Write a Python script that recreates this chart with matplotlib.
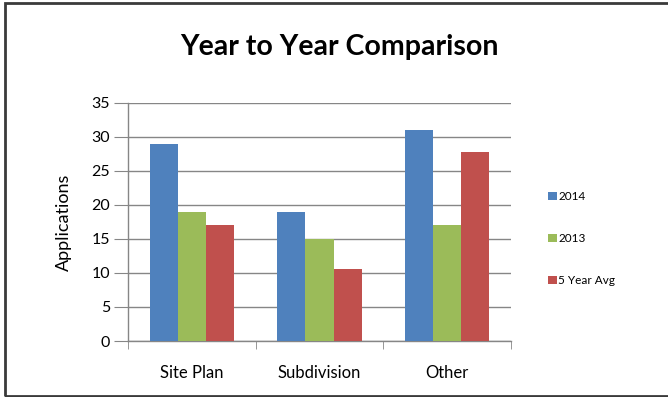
import numpy as np
import matplotlib as mpl
mpl.use("Agg")
import matplotlib.pyplot as plt
from matplotlib.patches import Rectangle

categories = ["Site Plan", "Subdivision", "Other"]
series_names = ["2014", "2013", "5 Year Avg"]
vals_2014 = [29, 19, 31]
vals_2013 = [19, 15, 17]
vals_avg = [17, 10.6, 27.8]
colors = ["#4f81bd", "#9bbb59", "#c0504d"]
yticks = [0, 5, 10, 15, 20, 25, 30, 35]


def main():
    plt.rcParams['font.family'] = ['Lato', 'DejaVu Sans']

    fig = plt.figure(figsize=(6.68, 3.97), dpi=100)
    ax = fig.add_axes([0.1916, 0.141, 0.5734, 0.600])

    x = np.arange(len(categories))
    w = 0.22
    for i, (vals, name, col) in enumerate(zip([vals_2014, vals_2013, vals_avg], series_names, colors)):
        ax.bar(x + (i - 1) * w, vals, width=w, color=col, label=name, zorder=3)

    ax.set_xlim(-0.5, len(categories) - 0.5)
    ax.set_ylim(0, 35)
    ax.set_yticks(yticks)
    ax.set_yticklabels([str(t) for t in yticks], fontsize=11.5)
    ax.set_xticks(x)
    ax.set_xticklabels(categories, fontsize=12)
    ax.tick_params(axis='x', length=0, pad=17)
    ax.tick_params(axis='y', length=10, color='#868686', pad=3)
    # category boundary ticks
    ax.set_xticks(np.arange(-0.5, len(categories)), minor=True)
    ax.tick_params(axis='x', which='minor', length=6, color='#868686')

    ax.grid(axis='y', color='#868686', linewidth=1, zorder=0)
    for s in ['top', 'right']:
        ax.spines[s].set_visible(False)
    for s in ['left', 'bottom']:
        ax.spines[s].set_color('#868686')
        ax.spines[s].set_linewidth(1)

    ax.set_ylabel("Applications", fontsize=13, labelpad=14)
    fig.text(0.508, 0.882, "Year to Year Comparison", fontsize=20.5, fontweight='bold',
             ha='center', va='center')

    ax.legend(loc='center left', bbox_to_anchor=(1.07, 0.43), frameon=False,
              fontsize=8.5, labelspacing=2.6, handlelength=0.7, handleheight=0.7,
              handletextpad=0.15)

    fig.patches.append(Rectangle((0.008, 0.003), 1.1, 0.99, transform=fig.transFigure,
                                 fill=False, edgecolor='#3a3a3a', linewidth=2))

    fig.savefig("out.png", dpi=100)
    plt.close()


if __name__ == "__main__":
    main()
